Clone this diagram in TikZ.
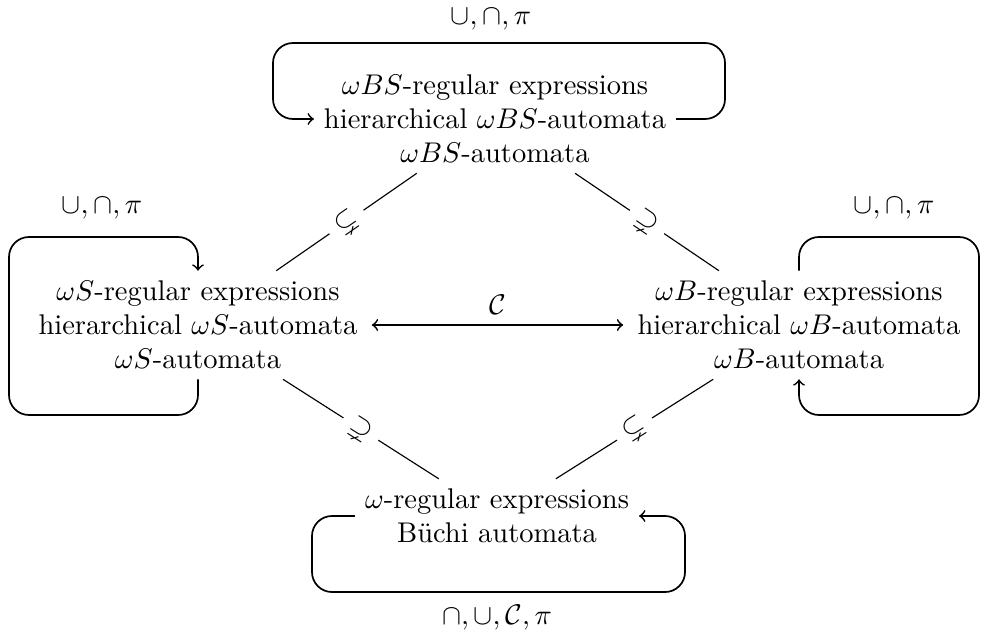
\documentclass[tikz,border=0pt]{standalone}
\usepackage{amssymb}
\begin{document}
\begin{tikzpicture}[x=0.351pt,y=-0.351pt,
  box/.style={align=center},
  loopline/.style={semithick, rounded corners=7pt},
  subline/.style={thin},
  rel/.style={sloped, fill=white, pos=0.5}]
\useasboundingbox (0,0) rectangle (981,637);
\node[box] (top) at (495,119) {$\omega BS$-regular expressions\\ hierarchical $\omega BS$-automata\\ $\omega BS$-automata};
\node[box] (left) at (198,325) {$\omega S$-regular expressions\\ hierarchical $\omega S$-automata\\ $\omega S$-automata};
\node[box] (right) at (799,325) {$\omega B$-regular expressions\\ hierarchical $\omega B$-automata\\ $\omega B$-automata};
\node[box] (bot) at (497,516) {$\omega$-regular expressions\\ B\"uchi automata};

\node (toplbl) at (491,19) {$\cup, \cap, \pi$};
\node (leftlbl) at (102,208) {$\cup, \cap, \pi$};
\node (rightlbl) at (894,208) {$\cup, \cap, \pi$};
\node (botlbl) at (497,618) {$\cap, \cup, \mathcal{C}, \pi$};

% self loops
\draw[loopline,->] (top.east) -- (725,119) -- (725,43) -- (273,43) -- (273,119) -- (top.west);
\draw[loopline,->] (left.south) -- (198,415) -- (9,415) -- (9,237) -- (198,237) -- (left.north);
\draw[loopline,->] (right.north) -- (799,237) -- (979,237) -- (979,415) -- (799,415) -- (right.south);
\draw[loopline,->] (bot.west) -- (312,516) -- (312,592) -- (685,592) -- (685,516) -- (bot.east);

% central arrow
\draw[semithick,<->,shorten <=1.5pt,shorten >=1.5pt] (left) -- node[above] {$\mathcal{C}$} (right);

% inclusions
\draw[subline] (left) -- node[rel] {$\subsetneq$} (top);
\draw[subline] (top) -- node[rel] {$\supsetneq$} (right);
\draw[subline] (left) -- node[rel] {$\supsetneq$} (bot);
\draw[subline] (bot) -- node[rel] {$\subsetneq$} (right);
\end{tikzpicture}
\end{document}
